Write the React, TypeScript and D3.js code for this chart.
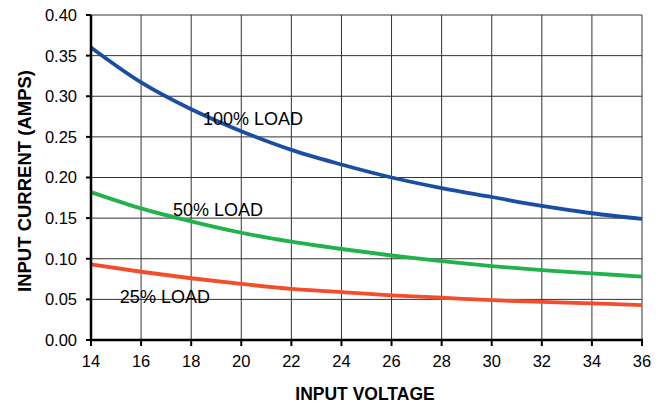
import React from "react";
import * as d3 from "d3";

const voltages = [14, 16, 18, 20, 22, 24, 26, 28, 30, 32, 34, 36];
const load100 = [0.36, 0.317, 0.284, 0.257, 0.234, 0.216, 0.2, 0.187, 0.176, 0.165, 0.156, 0.149];
const load50 = [0.182, 0.162, 0.146, 0.132, 0.121, 0.112, 0.104, 0.097, 0.091, 0.086, 0.082, 0.078];
const load25 = [0.093, 0.084, 0.076, 0.069, 0.063, 0.059, 0.055, 0.052, 0.049, 0.047, 0.045, 0.043];
const seriesNames = ["100% LOAD", "50% LOAD", "25% LOAD"];
const seriesColors = ["#1b4ea3", "#22b24c", "#f34e2b"];
const xTicks = [14, 16, 18, 20, 22, 24, 26, 28, 30, 32, 34, 36];
const yTicks = [0, 0.05, 0.1, 0.15, 0.2, 0.25, 0.3, 0.35, 0.4];
const labelPos = [
  { v: 20.47, a: 0.273 },
  { v: 19.07, a: 0.16 },
  { v: 16.95, a: 0.053 },
];

export default function App() {
  const W = 668, H = 408;
  const left = 91, right = 642, top = 15, bottom = 340;
  const x = d3.scaleLinear().domain([14, 36]).range([left, right]);
  const y = d3.scaleLinear().domain([0, 0.4]).range([bottom, top]);
  const allSeries = [load100, load50, load25];
  const line = d3
    .line<number>()
    .x((_, i) => x(voltages[i]))
    .y((d) => y(d))
    .curve(d3.curveMonotoneX);
  const font = "Arial, 'Liberation Sans', Helvetica, sans-serif";
  return (
    <svg
      width={W}
      height={H}
      style={{ position: "absolute", left: 0, top: 0, background: "#fff" }}
      fontFamily={font}
    >
      <rect x={0} y={0} width={W} height={H} fill="#fff" />
      {/* grid */}
      {xTicks.slice(1).map((t) => (
        <line key={"gx" + t} x1={x(t)} x2={x(t)} y1={top} y2={bottom} stroke="#333" strokeWidth={1} />
      ))}
      {yTicks.slice(1).map((t) => (
        <line key={"gy" + t} x1={left} x2={right} y1={y(t)} y2={y(t)} stroke="#333" strokeWidth={1} />
      ))}
      {/* series */}
      {allSeries.map((s, i) => (
        <path key={i} d={line(s) || ""} fill="none" stroke={seriesColors[i]} strokeWidth={3.8} />
      ))}
      {/* axes */}
      <line x1={left} x2={left} y1={top} y2={bottom + 1} stroke="#000" strokeWidth={2.5} />
      <line x1={left - 1} x2={right + 1} y1={bottom} y2={bottom} stroke="#000" strokeWidth={2.5} />
      {yTicks.map((t) => (
        <g key={"yt" + t}>
          <line x1={left - 5} x2={left} y1={y(t)} y2={y(t)} stroke="#000" strokeWidth={2} />
          <text x={77} y={y(t)} dy="0.36em" textAnchor="end" fontSize={16.5} fill="#000">
            {t.toFixed(2)}
          </text>
        </g>
      ))}
      {xTicks.map((t) => (
        <g key={"xt" + t}>
          <line x1={x(t)} x2={x(t)} y1={bottom} y2={bottom + 6} stroke="#000" strokeWidth={2} />
          <text x={x(t)} y={367} textAnchor="middle" fontSize={16.5} fill="#000">
            {t}
          </text>
        </g>
      ))}
      {/* series labels */}
      {seriesNames.map((n, i) => (
        <text
          key={n}
          x={x(labelPos[i].v)}
          y={y(labelPos[i].a)}
          textAnchor="middle"
          dy="0.36em"
          fontSize={18}
          fill="#000"
        >
          {n}
        </text>
      ))}
      {/* axis titles */}
      <text x={365} y={400} textAnchor="middle" fontSize={17.5} fontWeight="bold" fill="#000">
        INPUT VOLTAGE
      </text>
      <text
        transform={`translate(31, 181) rotate(-90)`}
        textAnchor="middle"
        fontSize={18.5}
        fontWeight="bold"
        fill="#000"
      >
        INPUT CURRENT (AMPS)
      </text>
    </svg>
  );
}
